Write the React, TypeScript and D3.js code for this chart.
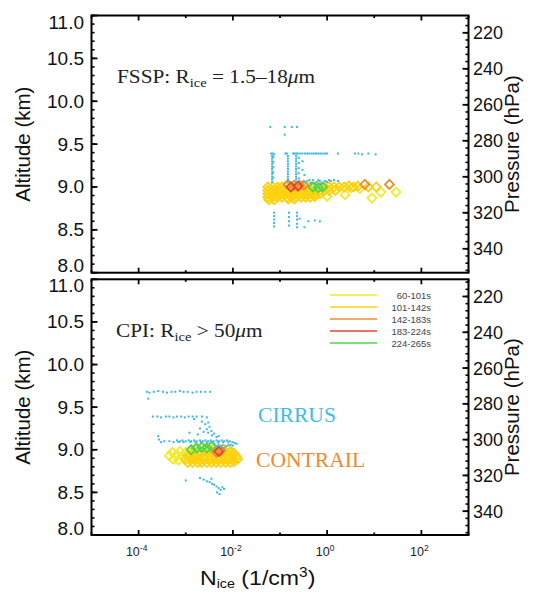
import * as d3 from "d3";

// [N_ice (1/cm3), altitude (km)]
type Pt = [number, number];

const timeBins = ["60-101s", "101-142s", "142-183s", "183-224s", "224-265s"];
const binColors = ["#f0ea2c", "#fcd20e", "#ee8c34", "#e4472c", "#4ed64e"];
const altTicks = [8.0, 8.5, 9.0, 9.5, 10.0, 10.5, 11.0];
const pressureTicks = [220, 240, 260, 280, 300, 320, 340];
const nDecades = [1e-5, 1e-4, 1e-3, 1e-2, 1e-1, 1e0, 1e1, 1e2, 1e3];
const nLabelExps = [-4, -2, 0, 2];

// ---- FSSP panel ----
const fsspCirrus: Pt[] = [
  [0.062, 9.7], [0.126, 9.7], [0.178, 9.7], [0.23, 9.7], [0.126, 9.61],
  [0.065, 9.39], [0.07, 9.39], [0.075, 9.38], [0.13, 9.39], [0.14, 9.39], [0.19, 9.39], [0.2, 9.39],
  [0.22, 9.39], [0.24, 9.39], [0.27, 9.39], [0.3, 9.39], [0.34, 9.39], [0.38, 9.39], [0.42, 9.39],
  [0.47, 9.39], [0.52, 9.39], [0.58, 9.39], [0.65, 9.39], [0.72, 9.39], [0.8, 9.39], [0.9, 9.39],
  [1.0, 9.39], [1.7, 9.39], [3.9, 9.39], [4.6, 9.39], [5.5, 9.38], [7.5, 9.39], [10.7, 9.38],
  [0.068, 9.36], [0.068, 9.33], [0.068, 9.3], [0.068, 9.27], [0.068, 9.24], [0.068, 9.21],
  [0.068, 9.18], [0.068, 9.15], [0.068, 9.12], [0.068, 9.09], [0.068, 9.06],
  [0.072, 9.35], [0.072, 9.29], [0.072, 9.23], [0.072, 9.17], [0.072, 9.11],
  [0.147, 9.36], [0.147, 9.33], [0.147, 9.3], [0.147, 9.27], [0.147, 9.24], [0.147, 9.21],
  [0.147, 9.18], [0.147, 9.15], [0.147, 9.12], [0.147, 9.09], [0.147, 9.06],
  [0.22, 9.36], [0.22, 9.33], [0.22, 9.3], [0.22, 9.27], [0.22, 9.24], [0.22, 9.21],
  [0.22, 9.18], [0.22, 9.15], [0.22, 9.12], [0.22, 9.09], [0.22, 9.06],
  [0.25, 9.34], [0.25, 9.28], [0.25, 9.22], [0.25, 9.16], [0.25, 9.1],
  [0.3, 9.3], [0.3, 9.2], [0.33, 9.14],
  [0.32, 9.06], [0.38, 9.07], [0.45, 9.05], [0.5, 9.08], [0.6, 9.06], [0.7, 9.07], [0.8, 9.05],
  [0.9, 9.07], [1.0, 9.06], [1.2, 9.07], [1.4, 9.08], [1.7, 9.07], [0.55, 9.04], [0.75, 9.03],
  [0.42, 9.08], [0.65, 9.08], [1.1, 9.08],
  [0.075, 8.7], [0.075, 8.66], [0.075, 8.62], [0.075, 8.58], [0.075, 8.54],
  [0.155, 8.7], [0.155, 8.65], [0.155, 8.6], [0.155, 8.55],
  [0.23, 8.7], [0.23, 8.66], [0.23, 8.62], [0.23, 8.57], [0.23, 8.53], [0.26, 8.63],
  [0.4, 8.6], [0.55, 8.61], [0.7, 8.6], [0.33, 8.53],
];
const fssp60: Pt[] = [
  [1.0, 8.89], [2.4, 8.91], [8.9, 8.87], [13.8, 8.94], [29, 8.94], [5, 8.98], [3.2, 8.99],
];
const fssp101: Pt[] = [
  [0.055, 9.0], [0.07, 9.0], [0.088, 9.0], [0.11, 9.0], [0.14, 9.0], [0.175, 9.0], [0.22, 9.0],
  [0.28, 9.0], [0.35, 9.0], [0.44, 9.0], [0.55, 9.0], [0.7, 9.0], [0.88, 9.0], [1.1, 9.0],
  [1.4, 9.0], [1.8, 9.0], [2.3, 9.0], [2.9, 9.01], [3.6, 9.0], [4.5, 9.01], [7.5, 9.0], [11, 9.0],
  [0.055, 8.96], [0.07, 8.96], [0.088, 8.96], [0.11, 8.96], [0.14, 8.96], [0.175, 8.96],
  [0.22, 8.96], [0.28, 8.96], [0.35, 8.96], [0.44, 8.96], [0.55, 8.96], [0.7, 8.96], [0.88, 8.96],
  [1.1, 8.96], [1.5, 8.96],
  [0.055, 8.92], [0.07, 8.92], [0.088, 8.92], [0.11, 8.92], [0.14, 8.92], [0.175, 8.92],
  [0.22, 8.92], [0.28, 8.92], [0.35, 8.92], [0.44, 8.92], [0.55, 8.92], [0.7, 8.92],
  [0.055, 8.88], [0.07, 8.88], [0.088, 8.88], [0.11, 8.88], [0.14, 8.88], [0.175, 8.88],
  [0.22, 8.88], [0.28, 8.88], [0.35, 8.88], [0.44, 8.88], [0.55, 8.89],
  [0.058, 8.85], [0.075, 8.85], [0.15, 8.86], [0.2, 8.86],
];
const fssp142: Pt[] = [
  [0.147, 9.03], [0.2, 9.02], [0.26, 9.02], [0.32, 9.02], [6.3, 9.03], [21, 9.03],
];
const fssp183: Pt[] = [[0.17, 9.0], [0.24, 9.01]];
const fssp224: Pt[] = [[0.5, 9.0], [0.65, 8.99], [0.8, 9.0]];

// ---- CPI panel ----
const cpiCirrus: Pt[] = [
  [1.5e-4, 9.68], [1.7e-4, 9.67], [2.1e-4, 9.68], [2.6e-4, 9.69], [3.3e-4, 9.68], [4e-4, 9.67],
  [5e-4, 9.68], [6e-4, 9.68], [7.5e-4, 9.69], [9e-4, 9.68], [1.1e-3, 9.68], [1.4e-3, 9.67],
  [1.7e-3, 9.68], [2.1e-3, 9.68], [2.6e-3, 9.68], [3.3e-3, 9.68], [1.6e-4, 9.6],
  [2e-4, 9.39], [2.5e-4, 9.39], [3e-4, 9.38], [3.8e-4, 9.39], [4.5e-4, 9.39], [5.5e-4, 9.38],
  [6.5e-4, 9.39], [8e-4, 9.39], [9.5e-4, 9.38], [1.15e-3, 9.39], [1.4e-3, 9.39], [1.7e-3, 9.39],
  [2.2e-3, 9.39], [2.8e-3, 9.38],
  [1.5e-3, 9.36], [2.2e-3, 9.33], [2.6e-3, 9.3], [3e-3, 9.32], [3.2e-3, 9.27], [2.8e-3, 9.24],
  [3.5e-3, 9.22], [3e-3, 9.2], [2.4e-3, 9.21], [4e-3, 9.19], [1.8e-3, 9.18], [3.6e-3, 9.17],
  [2e-3, 9.25], [4.5e-3, 9.15], [5e-3, 9.16], [1.2e-3, 9.2],
  [2.6e-4, 9.16], [2.7e-4, 9.12], [3e-4, 9.09], [3.5e-4, 9.1], [4.5e-4, 9.1], [5.5e-4, 9.09],
  [6.5e-4, 9.11], [7.5e-4, 9.1], [8.5e-4, 9.11], [1e-3, 9.1], [1.15e-3, 9.11], [1.3e-3, 9.1],
  [1.5e-3, 9.11], [1.7e-3, 9.1], [2e-3, 9.11], [2.3e-3, 9.1], [2.6e-3, 9.11], [3e-3, 9.1],
  [3.4e-3, 9.11], [3.9e-3, 9.1], [4.5e-3, 9.11], [5.1e-3, 9.1], [5.8e-3, 9.11], [6.6e-3, 9.1],
  [7.5e-3, 9.11], [8.6e-3, 9.1], [9.8e-3, 9.09], [1.1e-2, 9.08],
  [7e-4, 9.09], [9e-4, 9.09], [1.25e-3, 9.09], [1.6e-3, 9.09], [2.1e-3, 9.09], [2.8e-3, 9.09],
  [3.6e-3, 9.09], [4.8e-3, 9.09], [6.2e-3, 9.09], [8e-3, 9.09],
  [4e-3, 9.07], [5e-3, 9.06], [6e-3, 9.05], [7e-3, 9.04], [8e-3, 9.05], [9e-3, 9.06],
  [6.5e-3, 9.02], [1e-2, 9.05], [1.2e-2, 9.07], [4.6e-3, 9.04], [5.6e-3, 9.03],
  [1e-3, 8.64], [2e-3, 8.67], [2.4e-3, 8.65], [2.8e-3, 8.63], [3.2e-3, 8.62], [3.6e-3, 8.6],
  [4e-3, 8.59], [4.5e-3, 8.57], [5e-3, 8.55], [5.5e-3, 8.53], [4.6e-3, 8.5], [5.2e-3, 8.48],
  [6e-3, 8.56], [6.5e-3, 8.54], [3.5e-3, 8.66],
];
const cpi60: Pt[] = [
  [4.5e-4, 8.93], [5.2e-4, 8.97], [5.5e-4, 8.89], [6.5e-4, 8.94], [7.5e-4, 8.98], [7e-4, 8.88],
  [8.5e-4, 8.92], [1e-3, 8.97], [1.3e-3, 9.0], [1.6e-3, 9.01],
];
const cpi101: Pt[] = [
  [1.1e-3, 8.85], [1.4e-3, 8.85], [1.8e-3, 8.85], [2.2e-3, 8.85], [2.8e-3, 8.85], [3.5e-3, 8.85],
  [4.4e-3, 8.85], [5.5e-3, 8.85], [7e-3, 8.85], [8.8e-3, 8.85], [1.05e-2, 8.86],
  [1e-3, 8.89], [1.3e-3, 8.89], [1.6e-3, 8.89], [2e-3, 8.89], [2.5e-3, 8.89], [3.2e-3, 8.89],
  [4e-3, 8.89], [5e-3, 8.89], [6.3e-3, 8.89], [8e-3, 8.89], [1e-2, 8.89], [1.25e-2, 8.89],
  [1.1e-3, 8.93], [1.3e-3, 8.93], [1.6e-3, 8.93], [2e-3, 8.93], [2.5e-3, 8.93], [3.2e-3, 8.93],
  [4e-3, 8.93], [5e-3, 8.93], [6.3e-3, 8.93], [8e-3, 8.93], [1e-2, 8.93], [1.2e-2, 8.92],
  [1.4e-3, 8.97], [1.8e-3, 8.97], [2.2e-3, 8.97], [2.8e-3, 8.97], [3.5e-3, 8.97], [4.4e-3, 8.97],
  [5.5e-3, 8.97], [7e-3, 8.97], [8.8e-3, 8.97], [1.05e-2, 8.96],
  [2.5e-3, 9.01], [3.2e-3, 9.01], [4e-3, 9.01], [5e-3, 9.01], [6.3e-3, 9.01], [8e-3, 9.01],
];
const cpi142: Pt[] = [[4.5e-3, 8.97], [5.5e-3, 8.99]];
const cpi183: Pt[] = [[5e-3, 8.98]];
const cpi224: Pt[] = [
  [1.3e-3, 9.0], [1.7e-3, 9.02], [2.2e-3, 9.03], [2.8e-3, 9.02], [3.5e-3, 9.04],
];

const SANS = "'Liberation Sans', Arial, Helvetica, sans-serif";
const SERIF = "'Liberation Serif', 'Times New Roman', Times, serif";
const plotLeft = 91.5;
const plotRight = 468.5;

const x = d3.scaleLog().domain([1e-5, 1e3]).range([plotLeft, plotRight]);
const diamond = d3.symbol(d3.symbolDiamond2, 52)() || "";

interface PanelProps {
  id: string;
  top: number;
  bottom: number;
  cirrus: Pt[];
  contrail: Pt[][];
  children?: any;
}

function Panel({ id, top, bottom, cirrus, contrail, children }: PanelProps) {
  const y = d3.scaleLinear().domain([8, 11]).range([bottom, top]);
  const p = d3.scaleLinear().domain([210.4, 353.3]).range([top, bottom]);
  const altMinor = d3.range(8, 11.0001, 0.1);
  const pMinor = d3.range(212, 353.3, 4);
  const mid = (top + bottom) / 2;

  // end labels sit a little inside the frame, as in the original
  const labelShift = (v: number) => (v === 11 ? 6.5 : v === 8 ? -7 : 0);

  return (
    <g>
      <defs>
        <clipPath id={`clip-${id}`}>
          <rect x={plotLeft} y={top} width={plotRight - plotLeft} height={bottom - top} />
        </clipPath>
      </defs>

      <g clipPath={`url(#clip-${id})`}>
        {contrail.map((pts, i) =>
          pts.map((d, j) => (
            <path
              key={`c${i}-${j}`}
              d={diamond}
              transform={`translate(${x(d[0])},${y(d[1])})`}
              fill="none"
              stroke={binColors[i]}
              strokeWidth={1.8}
            />
          ))
        )}
        {cirrus.map((d, j) => (
          <rect
            key={`r${j}`}
            x={x(d[0]) - 1}
            y={y(d[1]) - 1}
            width={2}
            height={2}
            fill="#3bb8e6"
          />
        ))}
      </g>

      {/* left axis */}
      {altMinor.map((v, i) => (
        <line key={`am${i}`} x1={plotLeft} x2={plotLeft + 3} y1={y(v)} y2={y(v)} stroke="#000" strokeWidth={1.6} />
      ))}
      {altTicks.map((v) => (
        <line key={`aM${v}`} x1={plotLeft} x2={plotLeft + 6} y1={y(v)} y2={y(v)} stroke="#000" strokeWidth={1.8} />
      ))}
      {altTicks.map((v) => (
        <text
          key={`al${v}`}
          x={84}
          y={y(v) + 6.5 + labelShift(v)}
          textAnchor="end"
          fontFamily={SANS}
          fontSize={19}
          fill="#111"
        >
          {v.toFixed(1)}
        </text>
      ))}

      {/* right axis (pressure) */}
      {pMinor.map((v, i) => (
        <line key={`pm${i}`} x1={plotRight - 3} x2={plotRight} y1={p(v)} y2={p(v)} stroke="#000" strokeWidth={1.6} />
      ))}
      {pressureTicks.map((v) => (
        <line key={`pM${v}`} x1={plotRight - 6} x2={plotRight} y1={p(v)} y2={p(v)} stroke="#000" strokeWidth={1.8} />
      ))}
      {pressureTicks.map((v) => (
        <text key={`pl${v}`} x={473} y={p(v) + 6.5} fontFamily={SANS} fontSize={18} fill="#111">
          {v}
        </text>
      ))}

      {/* x ticks, top and bottom */}
      {nDecades.map((v, i) => {
        const len = i % 2 === 1 ? 5 : 2.5;
        return (
          <g key={`x${i}`}>
            <line x1={x(v)} x2={x(v)} y1={bottom} y2={bottom - len} stroke="#000" strokeWidth={1.8} />
            <line x1={x(v)} x2={x(v)} y1={top} y2={top + len} stroke="#000" strokeWidth={1.8} />
          </g>
        );
      })}

      <rect
        x={plotLeft}
        y={top}
        width={plotRight - plotLeft}
        height={bottom - top}
        fill="none"
        stroke="#000"
        strokeWidth={2}
      />

      <text
        transform={`translate(30,${mid}) rotate(-90)`}
        textAnchor="middle"
        fontFamily={SANS}
        fontSize={20.5}
        fill="#111"
      >
        Altitude (km)
      </text>
      <text
        transform={`translate(519,${mid}) rotate(-90)`}
        textAnchor="middle"
        fontFamily={SANS}
        fontSize={20.5}
        fill="#111"
      >
        Pressure (hPa)
      </text>
      {children}
    </g>
  );
}

export default function App() {
  const legendY = d3.scaleLinear().domain([0, 4]).range([295, 343]);
  return (
    <svg
      width={533}
      height={593}
      viewBox="0 0 533 593"
      style={{ position: "absolute", left: 0, top: 0, background: "#fff" }}
    >
      <rect width={533} height={593} fill="#fff" />
      <Panel
        id="fssp"
        top={15.5}
        bottom={272.7}
        cirrus={fsspCirrus}
        contrail={[fssp60, fssp101, fssp142, fssp183, fssp224]}
      >
        <g transform="translate(117,83) scale(1.12,1)">
          <text fontFamily={SERIF} fontSize={19} fill="#222">
            FSSP: R
            <tspan fontSize={13} dy={4}>ice</tspan>
            <tspan dy={-4}> = 1.5–18</tspan>
            <tspan fontStyle="italic">μ</tspan>m
          </text>
        </g>
      </Panel>
      <Panel
        id="cpi"
        top={279.3}
        bottom={535}
        cirrus={cpiCirrus}
        contrail={[cpi60, cpi101, cpi142, cpi183, cpi224]}
      >
        <g transform="translate(116,337) scale(1.12,1)">
          <text fontFamily={SERIF} fontSize={19} fill="#222">
            CPI: R
            <tspan fontSize={13} dy={4}>ice</tspan>
            <tspan dy={-4}> &gt; 50</tspan>
            <tspan fontStyle="italic">μ</tspan>m
          </text>
        </g>
        <g transform="translate(258,422) scale(1.08,1)">
          <text fontFamily={SERIF} fontSize={20} fill="#3dbde9">
            CIRRUS
          </text>
        </g>
        <g transform="translate(256,467) scale(1.08,1)">
          <text fontFamily={SERIF} fontSize={20} fill="#ef8a2c">
            CONTRAIL
          </text>
        </g>
        {timeBins.map((t, i) => (
          <g key={t}>
            <line
              x1={330}
              x2={377}
              y1={legendY(i)}
              y2={legendY(i)}
              stroke={binColors[i]}
              strokeOpacity={0.75}
              strokeWidth={1.8}
            />
            <text
              x={431}
              y={legendY(i) + 3.5}
              textAnchor="end"
              fontFamily={SANS}
              fontSize={9.5}
              fill="#444"
            >
              {t}
            </text>
          </g>
        ))}
        {nLabelExps.map((e) => (
          <text
            key={`xl${e}`}
            x={x(Math.pow(10, e)) - 2}
            y={556}
            textAnchor="middle"
            fontFamily={SANS}
            fontSize={12.5}
            fill="#222"
          >
            10
            <tspan fontSize={8.5} dy={-5}>{e}</tspan>
          </text>
        ))}
        <g transform="translate(200,585) scale(1.1,1)">
          <text fontFamily={SANS} fontSize={21} fill="#111">
            N
            <tspan fontSize={13} dy={3}>ice</tspan>
            <tspan dy={-3}> (1/cm</tspan>
            <tspan fontSize={14} dy={-8}>3</tspan>
            <tspan dy={8}>)</tspan>
          </text>
        </g>
      </Panel>
    </svg>
  );
}
